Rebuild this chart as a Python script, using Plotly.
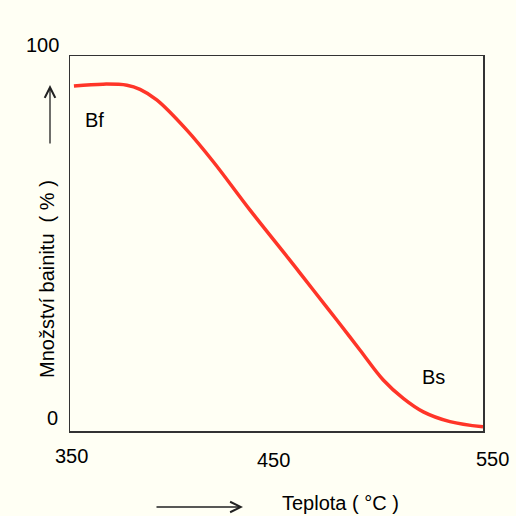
import plotly.graph_objects as go

# Data
temperature = [351.9, 366.0, 377.6, 383.9, 392.0, 406.5, 419.4, 437.2, 455.7, 461.4,
               467.8, 479.2, 490.4, 501.7, 511.4, 521.1, 534.0, 550.0]
bainite = [92.0, 92.5, 92.2, 91.1, 88.3, 80.3, 71.8, 58.9, 46.1, 42.1,
           37.6, 29.6, 21.6, 13.6, 8.7, 5.1, 2.5, 1.1]
x_ticks = [350, 450, 550]
x_tick_labels = ["350", "450", "550"]
y_ticks = [0, 100]
y_tick_labels = ["0", "100"]

BG = "#FFFFF4"
FONT = "Liberation Sans, Arial, sans-serif"
FS = 20

fig = go.Figure()
fig.add_trace(go.Scatter(
    x=temperature, y=bainite, mode="lines",
    line=dict(color="#FF3528", width=3.5, shape="spline", smoothing=1.0),
    hoverinfo="skip", showlegend=False,
))

W, H = 516, 516
L, R, T, B = 70, 33, 56, 85
pw, ph = W - L - R, H - T - B

def px_x(px):
    return (px - L) / pw

def px_y(py):
    return (H - B - py) / ph

def text_ann(**kw):
    d = dict(showarrow=False, xanchor="center", yanchor="middle")
    d.update(kw)
    return d

ann = []
# x tick labels
xs_shift = [1, -3, 9]
ys_shift = [-25, -29, -28]
for v, t, dx, dy in zip(x_ticks, x_tick_labels, xs_shift, ys_shift):
    ann.append(text_ann(x=v, y=0, xref="x", yref="paper", text=t,
                        xshift=dx, yshift=dy, font=dict(size=FS, color="black", family=FONT)))
# y tick labels
for v, t, dx, dy in zip(y_ticks, y_tick_labels, [-18, -28], [13, 11]):
    ann.append(text_ann(x=0, y=v, xref="paper", yref="y", text=t,
                        xshift=dx, yshift=dy, font=dict(size=FS, color="black", family=FONT)))
# curve labels
ann.append(text_ann(x=px_x(94), y=px_y(120), xref="paper", yref="paper", text="Bf",
                    font=dict(size=FS, color="black", family=FONT)))
ann.append(text_ann(x=px_x(433), y=px_y(377), xref="paper", yref="paper", text="Bs",
                    font=dict(size=FS, color="black", family=FONT)))
# axis titles
ann.append(text_ann(x=px_x(340), y=px_y(503), xref="paper", yref="paper", text="Teplota ( °C )",
                    font=dict(size=FS, color="black", family=FONT)))
ann.append(text_ann(x=px_x(47), y=px_y(279), xref="paper", yref="paper",
                    text="Množství bainitu  ( % )", textangle=-90,
                    font=dict(size=FS, color="black", family=FONT)))
# arrows
ann.append(dict(x=px_x(50), y=px_y(85), xref="paper", yref="paper", text="",
                showarrow=True, ax=0, ay=60, arrowhead=5, arrowsize=1.6, arrowwidth=1.3,
                arrowcolor="#222"))
ann.append(dict(x=px_x(243), y=px_y(507), xref="paper", yref="paper", text="",
                showarrow=True, ax=-88, ay=0, arrowhead=5, arrowsize=1.6, arrowwidth=1.3,
                arrowcolor="#222"))

fig.update_layout(
    width=W, height=H,
    margin=dict(l=L, r=R, t=T, b=B),
    paper_bgcolor=BG, plot_bgcolor=BG,
    annotations=ann,
    xaxis=dict(range=[350, 550], tickvals=x_ticks, showticklabels=False, ticks="",
               showgrid=False, zeroline=False, showline=True, linecolor="#333",
               linewidth=1.5, mirror=True),
    yaxis=dict(range=[0, 100], tickvals=y_ticks, showticklabels=False, ticks="",
               showgrid=False, zeroline=False, showline=True, linecolor="#333",
               linewidth=1.5, mirror=True),
)

fig.write_html(
    "out.html",
    config={"displayModeBar": False, "staticPlot": True},
    post_script="document.body.style.margin='0';document.body.style.overflow='hidden';"
                "document.body.style.background='" + BG + "';",
)
